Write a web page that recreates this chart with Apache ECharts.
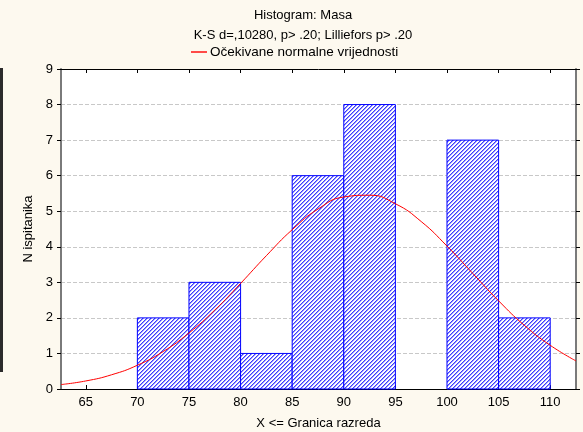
<!DOCTYPE html>
<html>
<head>
<meta charset="utf-8">
<script src="https://cdn.jsdelivr.net/npm/echarts@6/dist/echarts.min.js"></script>
<style>
  html, body { margin: 0; padding: 0; background: #fdf9ef; }
  #chart { width: 583px; height: 432px; }
</style>
</head>
<body>
<div id="chart"></div>
<script>
// Histogram bins: upper class limits (X <= limit) and counts
const binLower = [70, 75, 80, 85, 90, 95, 100, 105];
const binUpper = [75, 80, 85, 90, 95, 100, 105, 110];
const counts   = [2, 3, 1, 6, 8, 0, 7, 2];

// Expected normal frequencies along the x range
const curveX = [62.6, 65, 67.5, 70, 72.5, 75, 77.5, 80, 82.5, 85, 87.5, 90, 92.5, 95, 97.5, 100, 102.5, 105, 107.5, 110, 112.5];
const curveY = [0.125, 0.226, 0.40, 0.668, 1.054, 1.575, 2.22, 2.97, 3.75, 4.48, 5.06, 5.40, 5.45, 5.21, 4.71, 4.02, 3.25, 2.48, 1.79, 1.23, 0.79];

// Axis ticks
const xTicks = [65, 70, 75, 80, 85, 90, 95, 100, 105, 110];
const xMin = 62.6, xMax = 112.5;
const yMax = 9;

const titleLines = ['Histogram: Masa', 'K-S d=,10280, p> .20; Lilliefors p> .20'];
const legendName = 'Očekivane normalne vrijednosti';
const xName = 'X <= Granica razreda';
const yName = 'N ispitanika';

// Diagonal hatch used to fill the bars
function makeHatch() {
  const c = document.createElement('canvas');
  c.width = 4; c.height = 4;
  const ctx = c.getContext('2d');
  ctx.fillStyle = '#ffffff';
  ctx.fillRect(0, 0, 4, 4);
  for (let i = 0; i < 4; i++) {
    for (let j = 0; j < 4; j++) {
      const k = (i + j) % 4;
      if (k === 0) { ctx.fillStyle = '#3c3cff'; ctx.fillRect(i, j, 1, 1); }
      else if (k === 1) { ctx.fillStyle = '#9a9aff'; ctx.fillRect(i, j, 1, 1); }
    }
  }
  return c;
}
const hatch = { image: makeHatch(), repeat: 'repeat' };

const binData = binLower.map((lo, i) => [lo, binUpper[i], counts[i]]);
const curveData = curveX.map((x, i) => [x, curveY[i]]);

const font = 'Liberation Sans, Arial, sans-serif';

const chart = echarts.init(document.getElementById('chart'), null, { renderer: 'canvas' });
chart.setOption({
  backgroundColor: '#fdf9ef',
  animation: false,
  title: {
    text: titleLines.join('\n'),
    left: 298,
    textAlign: 'center',
    top: 0,
    textStyle: { fontFamily: font, fontSize: 13, fontWeight: 'normal', color: '#000', lineHeight: 20 }
  },
  legend: {
    data: [{ name: legendName, icon: 'path://M0,0L16,0L16,1.4L0,1.4Z' }],
    left: 191,
    top: 45,
    padding: 0,
    itemWidth: 16,
    itemHeight: 1.4,
    itemGap: 4,
    textStyle: { fontFamily: font, fontSize: 13.5, color: '#000', padding: [0, 0, 0, -2] }
  },
  graphic: [
    { type: 'rect', left: 0, top: 68, shape: { width: 3, height: 304 }, style: { fill: '#2b2b2b' }, z: 10 }
  ],
  grid: {
    left: 61, top: 69, right: 7, bottom: 43,
    outerBoundsMode: 'none',
    containLabel: false,
    show: true, backgroundColor: '#ffffff', borderWidth: 0
  },
  xAxis: [
    {
      type: 'value', min: xMin, max: xMax, position: 'bottom',
      name: xName, nameLocation: 'middle', nameGap: 28,
      nameTextStyle: { fontFamily: font, fontSize: 13, color: '#000' },
      axisLine: { show: true, onZero: false, lineStyle: { color: '#000', width: 1 } },
      axisTick: { show: true, inside: true, length: 4, customValues: xTicks, lineStyle: { color: '#000' } },
      axisLabel: { customValues: xTicks, margin: 7, fontFamily: font, fontSize: 13, color: '#000' },
      splitLine: { show: false }
    },
    {
      type: 'value', min: xMin, max: xMax, position: 'top',
      axisLine: { show: true, onZero: false, lineStyle: { color: '#000', width: 1 } },
      axisTick: { show: true, inside: true, length: 4, customValues: xTicks, lineStyle: { color: '#000' } },
      axisLabel: { show: false },
      splitLine: { show: false }
    }
  ],
  yAxis: [
    {
      type: 'value', min: 0, max: yMax, interval: 1, position: 'left',
      name: yName, nameLocation: 'middle', nameGap: 25,
      nameTextStyle: { fontFamily: font, fontSize: 13, color: '#000' },
      axisLine: { show: true, onZero: false, lineStyle: { color: '#7a7a7a', width: 2 } },
      axisTick: { show: true, inside: false, length: 4, lineStyle: { color: '#000' } },
      axisLabel: { margin: 8, fontFamily: font, fontSize: 13, color: '#000' },
      splitLine: { show: true, lineStyle: { color: '#c8c8c8', type: [4, 2], width: 1 } }
    },
    {
      type: 'value', min: 0, max: yMax, interval: 1, position: 'right',
      axisLine: { show: true, onZero: false, lineStyle: { color: '#7a7a7a', width: 2 } },
      axisTick: { show: true, inside: false, length: 4, lineStyle: { color: '#000' } },
      axisLabel: { show: false },
      splitLine: { show: false }
    }
  ],
  series: [
    {
      type: 'custom',
      name: 'hist',
      xAxisIndex: 0, yAxisIndex: 0,
      data: binData,
      renderItem: function (params, api) {
        const v = api.value(2);
        if (!v) return null;
        const p0 = api.coord([api.value(0), v]);
        const p1 = api.coord([api.value(1), 0]);
        return {
          type: 'rect',
          shape: { x: p0[0], y: p0[1], width: p1[0] - p0[0], height: p1[1] - p0[1] },
          style: { fill: hatch, stroke: '#0000ff', lineWidth: 1 }
        };
      },
      z: 2
    },
    {
      type: 'line',
      name: legendName,
      xAxisIndex: 0, yAxisIndex: 0,
      data: curveData,
      smooth: true,
      showSymbol: false,
      symbol: 'none',
      clip: true,
      lineStyle: { color: '#ff0000', width: 1 },
      itemStyle: { color: '#ff0000' },
      z: 3
    }
  ]
});
</script>
</body>
</html>
